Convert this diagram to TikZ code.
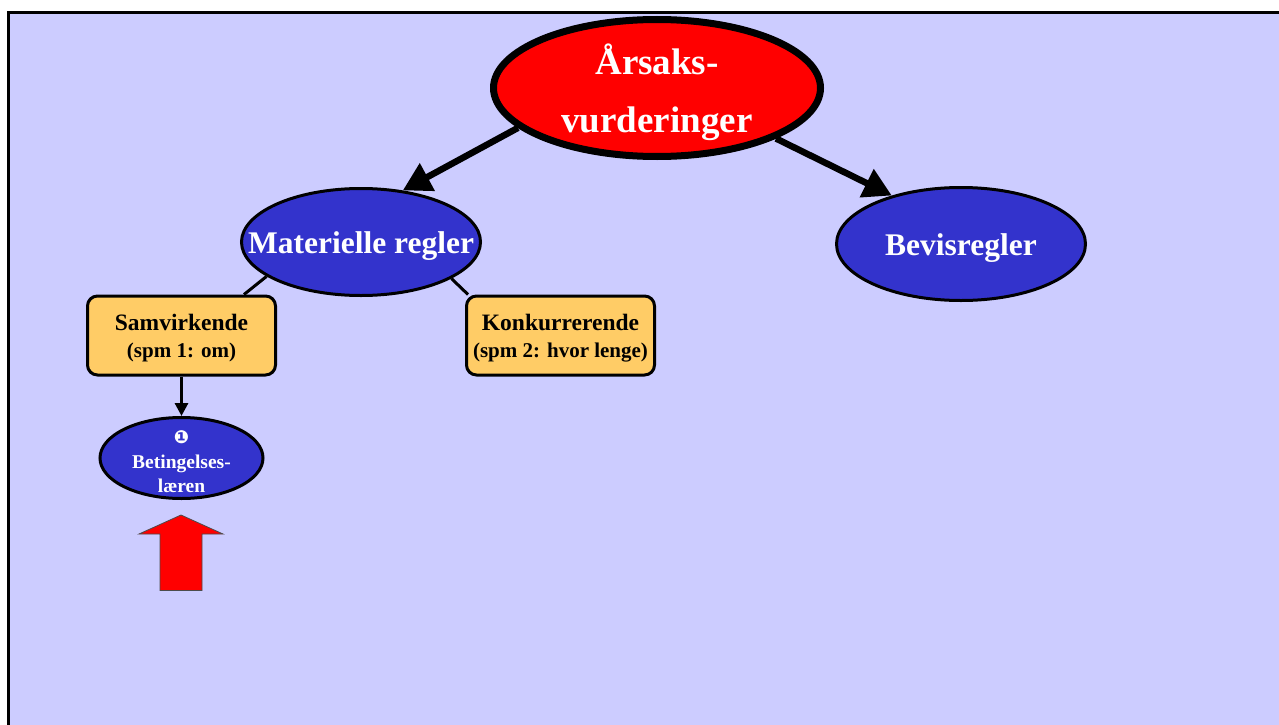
\documentclass[tikz,border=0pt]{standalone}
\usepackage{fontspec}
\setmainfont{Liberation Serif}
\newfontfamily\dejavu{DejaVu Sans}
\usetikzlibrary{shapes.geometric,arrows.meta}
\definecolor{lav}{HTML}{CCCCFF}
\definecolor{blu}{HTML}{3333CC}
\definecolor{ora}{HTML}{FFCC66}
\definecolor{rd}{HTML}{FF0000}
\tikzset{
  redell/.style={ellipse, draw=black, line width=7pt, fill=rd, inner sep=0pt},
  blueell/.style={ellipse, draw=black, line width=3pt, fill=blu, inner sep=0pt},
  box/.style={rectangle, rounded corners=10pt, draw=black, line width=3pt, fill=ora,
     minimum width=188pt, minimum height=79pt, inner sep=0pt},
  blabel/.style={text=black, align=center, inner sep=0pt, yshift=-3pt,
     font=\fontsize{23.5}{27}\selectfont\bfseries},
  bigarrow/.style={line width=6.5pt, -{Triangle[length=28pt,width=30pt]}},
  smallarrow/.style={line width=3pt, -{Triangle[length=13pt,width=13pt]}},
  plainline/.style={line width=3pt},
  wlabel/.style={text=white, align=center, inner sep=0pt, yshift=-4pt}
}
\begin{document}
\begin{tikzpicture}[x=1pt,y=-1pt]
\useasboundingbox (0,0) rectangle (1279,725);
\fill[white] (0,0) rectangle (1279,725);
\draw[line width=3pt, fill=lav] (8.5,12.5) rectangle (1290,740);

\node[redell, minimum width=327pt, minimum height=137pt,
  label={[wlabel, font=\fontsize{37}{58}\selectfont\bfseries]center:Årsaks-\\vurderinger}]
  (top) at (657,88) {};
\node[blueell, minimum width=239pt, minimum height=107pt,
  label={[wlabel, font=\fontsize{31.5}{38}\selectfont\bfseries]center:Materielle regler}]
  (mat) at (361,242) {};
\node[blueell, minimum width=249pt, minimum height=113pt,
  label={[wlabel, font=\fontsize{31.5}{38}\selectfont\bfseries]center:Bevisregler}]
  (bev) at (961,244) {};

\node[box, label={[blabel]center:Samvirkende\\{\fontsize{21}{27}\selectfont (spm 1: om)}}]
  (sam) at (181.5,335.5) {};
\node[box, label={[blabel]center:Konkurrerende\\{\fontsize{21}{27}\selectfont (spm 2: hvor lenge)}}]
  (kon) at (560.5,335.5) {};

\node[blueell, minimum width=163pt, minimum height=81pt,
  label={[wlabel, font=\fontsize{19.5}{24.5}\selectfont\bfseries]center:{\dejavu\fontsize{18}{24.5}\selectfont ❶}\\Betingelses-\\læren}]
  (bet) at (181.5,458) {};

\draw[bigarrow] (top.196) -- (mat.51);
\draw[bigarrow] (top.337) -- (bev.145);
\draw[plainline] (mat.200) -- ([xshift=-33pt]sam.north east);
\draw[plainline] (mat.338) -- ([xshift=3pt]kon.north west);
\draw[smallarrow] (sam.south) -- (bet.north);

\draw[line width=0.8pt, draw=black!70, fill=rd]
  (181,515) -- (223,534) -- (202,534) -- (202,590.5) -- (160,590.5) -- (160,534) -- (139,534) -- cycle;
\end{tikzpicture}
\end{document}
